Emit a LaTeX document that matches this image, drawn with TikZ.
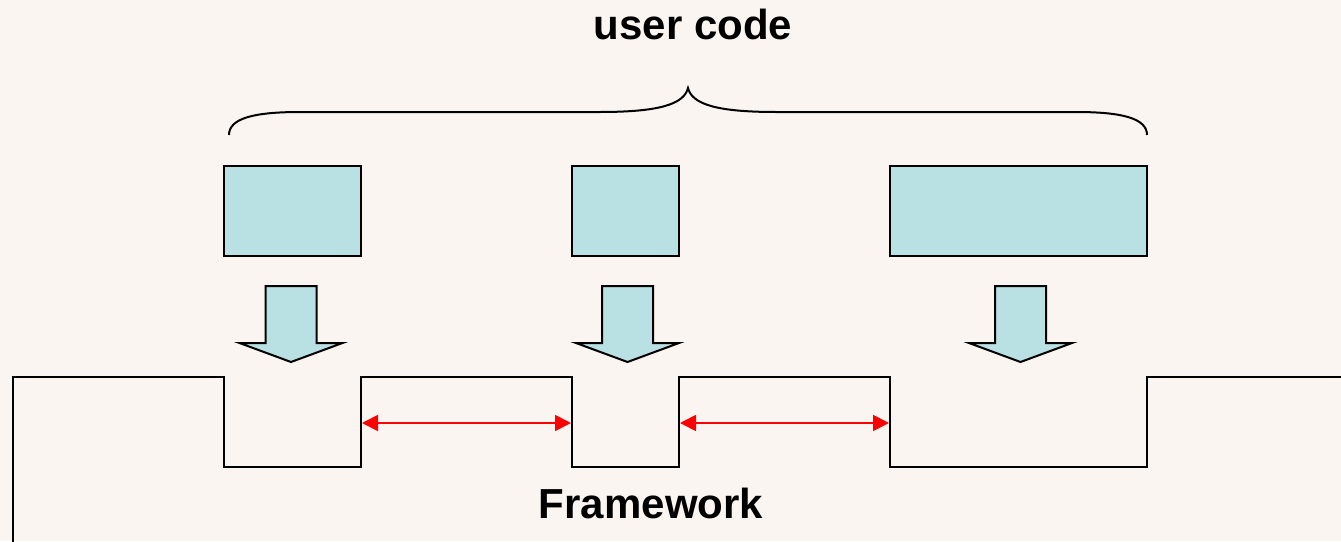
\documentclass[tikz,border=0pt]{standalone}
\usepackage{fontspec}
\setmainfont{Liberation Sans}
\usetikzlibrary{arrows.meta}
\definecolor{bg}{RGB}{251,245,241}
\definecolor{cyanfill}{RGB}{185,224,227}
\tikzset{
  ubox/.style={draw=black, line width=2pt, fill=cyanfill, inner sep=0pt},
  fatarrow/.style={draw=black, line width=2pt, fill=cyanfill, line join=miter},
  outline/.style={draw=black, line width=2pt, line join=miter},
  redarr/.style={draw=red, line width=1.8pt, {Triangle[length=16pt,width=16pt]}-{Triangle[length=16pt,width=16pt]}},
  lbl/.style={font=\fontsize{42}{50}\selectfont\bfseries, inner sep=0pt, anchor=base}
}
\begin{document}
\begin{tikzpicture}[x=1pt,y=-1pt]
\fill[bg] (0,0) rectangle (1341,541);
\useasboundingbox (0,0) rectangle (1341,541);
\clip (0,0) rectangle (1341,541);

% title
\node[lbl] (uc) at (693,39) {user code};

% brace
\draw[line width=2pt] (229,135) .. controls (229,118) and (255,112) .. (300,112)
  -- (600,112) .. controls (660,112) and (684,104) .. (688,88)
  .. controls (692,104) and (716,112) .. (776,112)
  -- (1076,112) .. controls (1121,112) and (1147,118) .. (1147,135);

% user code boxes
\node[ubox, minimum width=137pt, minimum height=90pt] (b1) at (292.5,211) {};
\node[ubox, minimum width=107pt, minimum height=90pt] (b2) at (625.5,211) {};
\node[ubox, minimum width=257pt, minimum height=90pt] (b3) at (1018.5,211) {};

% fat down arrows
\foreach \cx in {291,627.5,1020.5}{
  \draw[fatarrow] (\cx-25.5,286) -- (\cx+25.5,286) -- (\cx+25.5,343) -- (\cx+51.5,343)
     -- (\cx,362) -- (\cx-51.5,343) -- (\cx-25.5,343) -- cycle;
}

% framework outline
\draw[outline] (13,560) -- (13,377) -- (224,377) -- (224,467) -- (361,467) -- (361,377)
  -- (572,377) -- (572,467) -- (679,467) -- (679,377) -- (890,377) -- (890,467)
  -- (1147,467) -- (1147,377) -- (1360,377);

% red double arrows
\coordinate (r1a) at (362,423);
\coordinate (r1b) at (571,423);
\coordinate (r2a) at (680,423);
\coordinate (r2b) at (889,423);
\draw[redarr] (r1a) -- (r1b);
\draw[redarr] (r2a) -- (r2b);

\node[lbl] (fw) at (651,518) {Framework};
\end{tikzpicture}
\end{document}
